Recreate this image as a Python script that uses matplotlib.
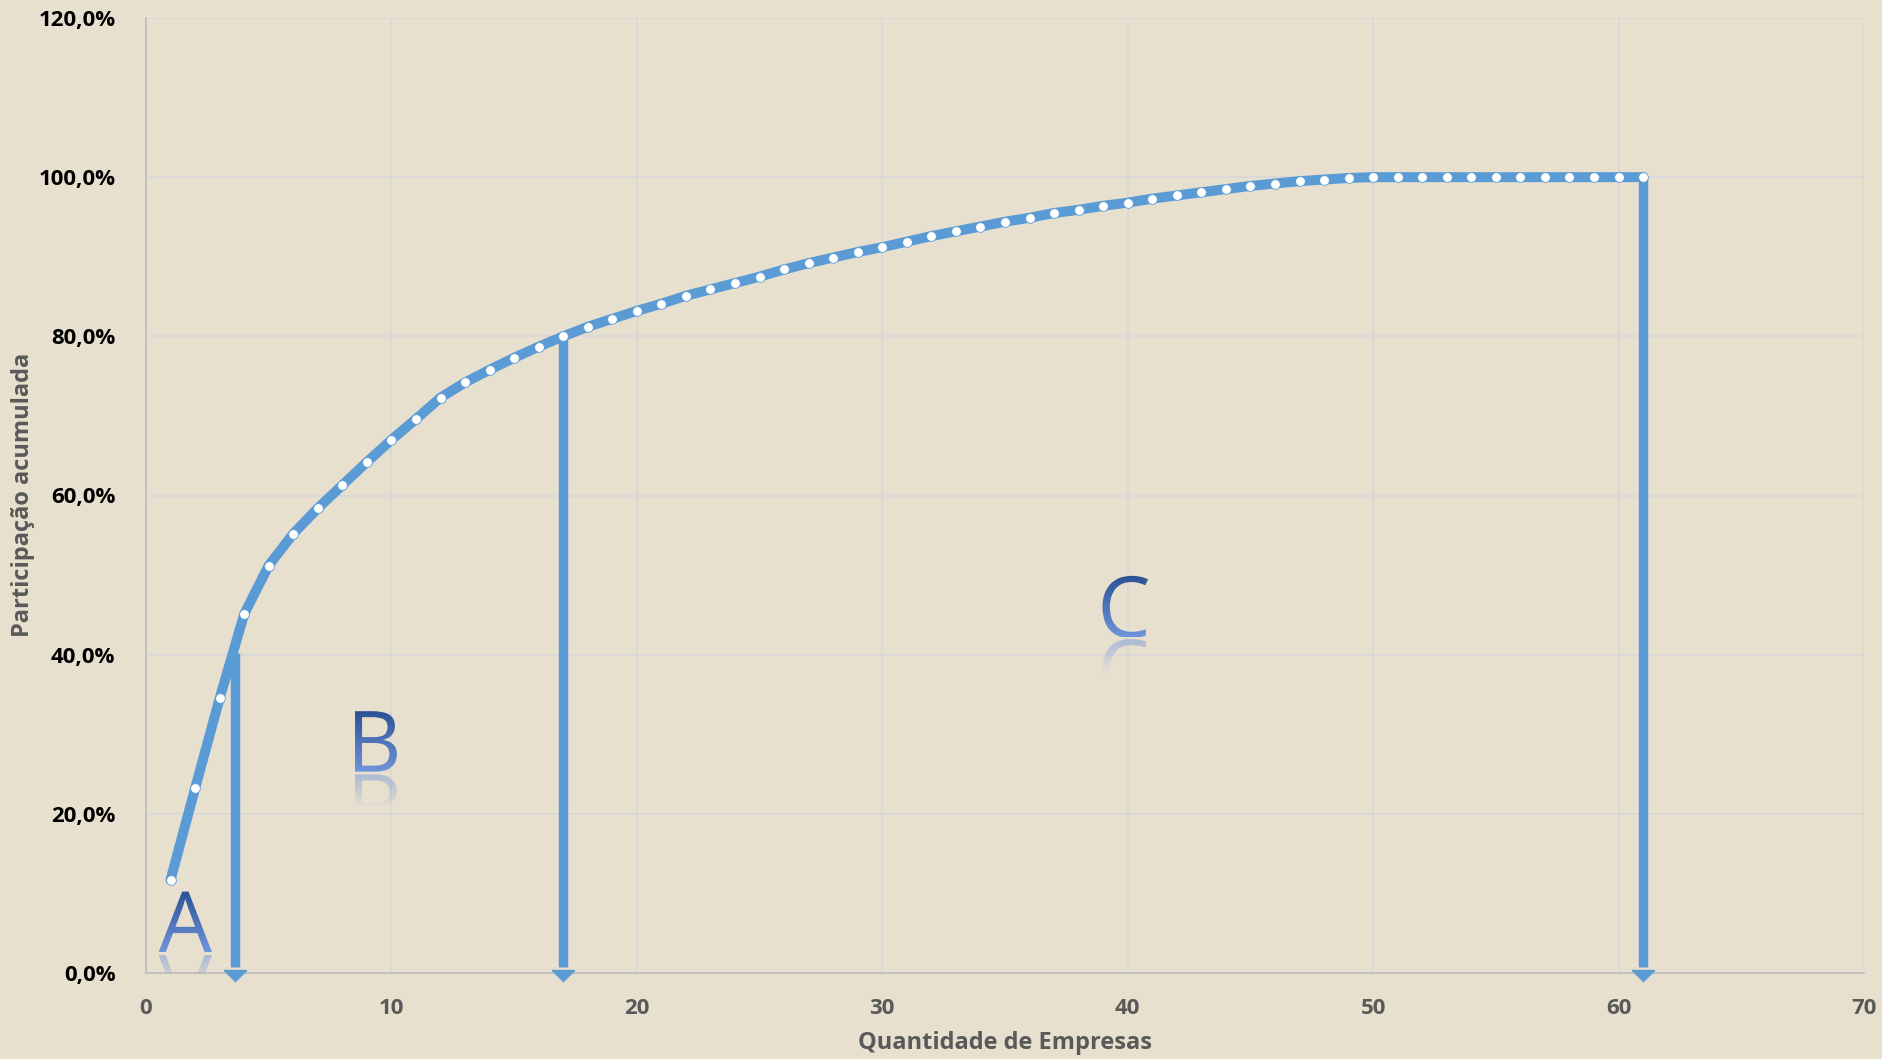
import numpy as np
import matplotlib
matplotlib.use("Agg")
import matplotlib.pyplot as plt
import matplotlib.transforms as mtransforms
from matplotlib.textpath import TextPath
from matplotlib.patches import PathPatch
from matplotlib.font_manager import FontProperties
from matplotlib.ticker import FuncFormatter, MultipleLocator
from matplotlib.path import Path

# dados
empresas = list(range(1, 62))
participacao = [11.7, 23.2, 34.5, 45.1, 51.2, 55.2, 58.4, 61.3, 64.2, 67.0,
                69.6, 72.3, 74.2, 75.8, 77.3, 78.7, 80.0, 81.2, 82.2, 83.2,
                84.1, 85.1, 85.9, 86.7, 87.5, 88.4, 89.2, 89.9, 90.6, 91.2,
                91.9, 92.6, 93.2, 93.8, 94.4, 94.9, 95.5, 95.9, 96.4, 96.8,
                97.3, 97.7, 98.1, 98.5, 98.9, 99.2, 99.5, 99.7, 99.9] + [100.0] * 12

# cortes das classes A, B, C
corte_x = [3.63, 17, 61]
corte_y = [40.2, 80.0, 100.0]
classes = ['A', 'B', 'C']
classe_x = [1.6, 9.37, 39.9]
classe_y = [2.6, 25.3, 42.2]

BG = '#E7E0CF'
AZUL = '#5B9BD5'
CINZA = '#595959'

plt.rcParams['font.family'] = ['Open Sans', 'DejaVu Sans']
plt.rcParams['font.weight'] = 'bold'

fig = plt.figure(figsize=(18.83, 10.59), dpi=100, facecolor=BG)
ax = fig.add_axes([146/1883, 1 - 973/1059, (1864-146)/1883, (973-18)/1059])
ax.set_facecolor(BG)

ax.set_xlim(0, 70)
ax.set_ylim(0, 120)
ax.xaxis.set_major_locator(MultipleLocator(10))
ax.yaxis.set_major_locator(MultipleLocator(20))
ax.yaxis.set_major_formatter(FuncFormatter(lambda v, p: f"{v:.1f}%".replace('.', ',')))
ax.grid(True, color='#D9D9D9', lw=1.3)
ax.set_axisbelow(True)
for s in ['top', 'right']:
    ax.spines[s].set_visible(False)
for s in ['left', 'bottom']:
    ax.spines[s].set_color('#BFBFBF')
    ax.spines[s].set_linewidth(1.3)
ax.tick_params(length=0)
ax.tick_params(axis='y', labelsize=16, pad=22, labelcolor='black')
ax.tick_params(axis='x', labelsize=16, pad=18, labelcolor=CINZA)

fig.text(0.5 * (146 + 1864) / 1883, 1 - 1043/1059, 'Quantidade de Empresas', fontsize=17,
         fontweight='bold', color=CINZA, ha='center', va='center')
fig.text(23/1883, 1 - 495/1059, 'Participação acumulada', fontsize=17, fontweight='bold',
         color=CINZA, ha='center', va='center', rotation=90)

# setas verticais
cabeca = Path([(-1.0, 0.0), (1.0, 0.0), (0.0, -1.0), (-1.0, 0.0)],
              [Path.MOVETO, Path.LINETO, Path.LINETO, Path.CLOSEPOLY])
for cx, cy in zip(corte_x, corte_y):
    ax.plot([cx, cx], [cy, 0.8], color=AZUL, lw=6.8, solid_capstyle='butt', zorder=3, clip_on=False)
    ax.plot([cx], [0.4], marker=cabeca, markersize=16, color=AZUL, mec=AZUL, zorder=3, clip_on=False)

# curva
ax.plot(empresas, participacao, color=AZUL, lw=7.2, zorder=4, solid_joinstyle='round',
        solid_capstyle='round', marker='o', markersize=7, mfc='white', mec=AZUL, mew=0.6)


def letra(s, x, y, size=61):
    fp = FontProperties(family='Open Sans', weight='normal')
    tp = TextPath((0, 0), s, prop=fp, size=size)
    bb = tp.get_extents()
    cx = (bb.x0 + bb.x1) / 2
    k = fig.dpi / 72
    pos = mtransforms.ScaledTranslation(x, y, ax.transData)
    tr = mtransforms.Affine2D().translate(-cx, 0).scale(k) + pos
    tr_ref = mtransforms.Affine2D().translate(-cx, 0).scale(1, -1).translate(0, -2).scale(k) + pos

    n = 64
    t = np.linspace(0, 1, n)[:, None]
    c0 = np.array([112, 148, 218]) / 255
    c1 = np.array([44, 82, 150]) / 255
    rgb = c0 * (1 - t) + c1 * t
    img = np.ones((n, 1, 4))
    img[:, 0, :3] = rgb
    ext = (bb.x0, bb.x1, 0, bb.y1)

    p = PathPatch(tp, transform=tr, fc='none', ec='none')
    ax.add_patch(p)
    im = ax.imshow(img, extent=ext, origin='lower', aspect='auto', zorder=5, interpolation='bilinear')
    im.set_transform(tr)
    im.set_clip_path(p)

    # reflexo
    img2 = img.copy()
    img2[:, 0, :3] = c0
    img2[:, 0, 3] = np.clip(0.5 * (1 - t[:, 0] / 0.55), 0, 1)
    p2 = PathPatch(tp, transform=tr_ref, fc='none', ec='none')
    ax.add_patch(p2)
    im2 = ax.imshow(img2, extent=ext, origin='lower', aspect='auto', zorder=5, interpolation='bilinear')
    im2.set_transform(tr_ref)
    im2.set_clip_path(p2)


for s, x, y in zip(classes, classe_x, classe_y):
    letra(s, x, y)

ax.set_xlim(0, 70)
ax.set_ylim(0, 120)

fig.savefig('out.png', dpi=100, facecolor=BG)
